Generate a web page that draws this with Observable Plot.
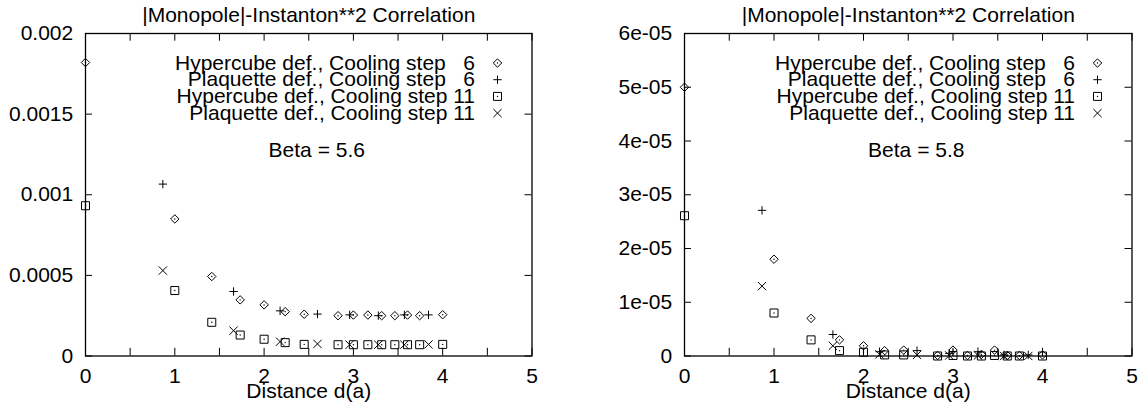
<!DOCTYPE html>
<html><head><meta charset="utf-8">
<script src="https://cdn.jsdelivr.net/npm/d3@7"></script>
<script src="https://cdn.jsdelivr.net/npm/@observablehq/plot@0.6"></script>
<style>
body{margin:0;background:#fff;}
#wrap{display:flex;width:1143px;height:407px;}
</style></head><body><div id="wrap"></div>
<script>
// distances (lattice units)
const hyperDist = [0, 1, 1.414, 1.732, 2, 2.236, 2.449, 2.828, 3, 3.162, 3.317, 3.464, 3.606, 3.742, 4];
const plaqDist = [0.866, 1.658, 2.179, 2.598, 2.958, 3.279, 3.571, 3.841];

// Beta = 5.6
const hyp6L = [0.00182, 0.00085, 0.000493, 0.000348, 0.000317, 0.000275, 0.000259, 0.00025, 0.000254, 0.000254, 0.00025, 0.00025, 0.000254, 0.00025, 0.000256];
const plaq6L = [0.001066, 0.0004, 0.00028, 0.00026, 0.000255, 0.00025, 0.000255, 0.000255];
const hyp11L = [0.000932, 0.000406, 0.000209, 0.00013, 0.000104, 0.000083, 0.000072, 0.00007, 0.00007, 0.00007, 0.00007, 0.00007, 0.00007, 0.00007, 0.000072];
const plaq11L = [0.00053, 0.000157, 0.000089, 0.000075, 0.00007, 0.00007, 0.00007, 0.000072];

// Beta = 5.8
const hyp6R = [5e-5, 1.8e-5, 0.7e-5, 0.3e-5, 0.19e-5, 0.1e-5, 0.11e-5, 0.01e-5, 0.11e-5, 0.01e-5, 0.03e-5, 0.11e-5, 0.01e-5, 0.01e-5, 0.02e-5];
const plaq6R = [2.71e-5, 0.4e-5, 0.08e-5, 0.1e-5, 0.05e-5, 0.08e-5, 0.02e-5, 0.02e-5];
const hyp11R = [2.61e-5, 0.8e-5, 0.3e-5, 0.1e-5, 0.07e-5, 0.02e-5, 0.02e-5, 0, 0.01e-5, 0, 0, 0.01e-5, 0, 0, 0];
const plaq11R = [1.3e-5, 0.19e-5, 0.03e-5, 0.02e-5, 0.01e-5, 0.01e-5, 0, 0];

const seriesNames = [
  "Hypercube def., Cooling step \u20076",
  "Plaquette def., Cooling step \u20076",
  "Hypercube def., Cooling step 11",
  "Plaquette def., Cooling step 11"
];
const titleText = "|Monopole|-Instanton**2 Correlation";
const xLabelText = "Distance d(a)";
const xTickLabels = [0, 1, 2, 3, 4, 5];
const xTickMarks = [0, 0.5, 1, 1.5, 2, 2.5, 3, 3.5, 4, 4.5, 5];
const yTicksL = [0, 0.0005, 0.001, 0.0015, 0.002];
const yTicksR = [0, 1e-5, 2e-5, 3e-5, 4e-5, 5e-5, 6e-5];

const symbols = ["diamond2", "plus", "square2", "times"];
const radii = [3.8, 2.8, 5.1, 3.85];
const centerDot = [true, false, true, false];

function zip(xs, vs) { return xs.map((d, i) => ({d, v: vs[i]})); }

function panel({width, marginLeft, marginRight, yMax, yTicks, yFormat, values, beta}) {
  const height = 407, marginTop = 33, marginBottom = 51.5;
  const fw = width - marginLeft - marginRight;
  const fh = height - marginTop - marginBottom;
  const dists = [hyperDist, plaqDist, hyperDist, plaqDist];
  const marks = [];
  // inward tick marks on all four sides
  marks.push(Plot.ruleX(xTickMarks, {x: d => d, insetTop: fh - 7.7, stroke: "black", strokeWidth: 1}));
  marks.push(Plot.ruleX(xTickMarks, {x: d => d, insetBottom: fh - 7.7, stroke: "black", strokeWidth: 1}));
  marks.push(Plot.ruleY(yTicks, {y: d => d, insetRight: fw - 7, stroke: "black", strokeWidth: 1}));
  marks.push(Plot.ruleY(yTicks, {y: d => d, insetLeft: fw - 7, stroke: "black", strokeWidth: 1}));
  marks.push(Plot.frame({stroke: "black", strokeWidth: 1.3}));
  marks.push(Plot.axisX({ticks: xTickLabels, tickSize: 0, tickPadding: 12.5, tickFormat: d => String(d), label: null, fill: "black"}));
  marks.push(Plot.axisY({ticks: yTicks, tickSize: 0, tickPadding: 12.3, tickFormat: yFormat, label: null, fill: "black"}));
  // data
  values.forEach((vals, i) => {
    const rows = zip(dists[i], vals);
    marks.push(Plot.dot(rows, {x: "d", y: "v", symbol: symbols[i], r: radii[i], stroke: "black", fill: "none", strokeWidth: 1}));
    if (centerDot[i]) marks.push(Plot.dot(rows, {x: "d", y: "v", r: 0.7, fill: "black", stroke: null}));
  });
  // legend
  seriesNames.forEach((name, i) => {
    const dy = 29.5 + 16.7 * i;
    marks.push(Plot.text([name], {x: null, y: null, text: d => d, frameAnchor: "top-right", dx: -57, dy, textAnchor: "end", lineAnchor: "middle", fill: "black"}));
    marks.push(Plot.dot([name], {x: null, y: null, frameAnchor: "top-right", dx: -34.5, dy, symbol: symbols[i], r: radii[i], stroke: "black", fill: "none", strokeWidth: 1}));
    if (centerDot[i]) marks.push(Plot.dot([name], {x: null, y: null, frameAnchor: "top-right", dx: -34.5, dy, r: 0.7, fill: "black", stroke: null}));
  });
  marks.push(Plot.text([`Beta = ${beta}`], {x: null, y: null, text: d => d, frameAnchor: "top", dx: 8, dy: 117, lineAnchor: "middle", fill: "black"}));
  marks.push(Plot.text([titleText], {x: null, y: null, text: d => d, frameAnchor: "top", dy: -18, lineAnchor: "middle", fill: "black"}));
  marks.push(Plot.text([xLabelText], {x: null, y: null, text: d => d, frameAnchor: "bottom", dy: 35.3, lineAnchor: "middle", fill: "black"}));
  return Plot.plot({
    width, height, marginTop, marginBottom, marginLeft, marginRight,
    x: {domain: [0, 5], axis: null},
    y: {domain: [0, yMax], axis: null},
    style: {fontFamily: '"Liberation Sans", Arial, sans-serif', fontSize: "21px", color: "black", background: "white", overflow: "visible"},
    marks
  });
}

const wrap = document.getElementById("wrap");
wrap.appendChild(panel({
  width: 571, marginLeft: 85, marginRight: 39.5, yMax: 0.002, yTicks: yTicksL,
  yFormat: d => d === 0 ? "0" : String(d),
  values: [hyp6L, plaq6L, hyp11L, plaq11L], beta: "5.6"
}));
wrap.appendChild(panel({
  width: 572, marginLeft: 113, marginRight: 11.5, yMax: 6e-5, yTicks: yTicksR,
  yFormat: d => d === 0 ? "0" : `${Math.round(d * 1e5)}e-05`,
  values: [hyp6R, plaq6R, hyp11R, plaq11R], beta: "5.8"
}));
</script></body></html>
